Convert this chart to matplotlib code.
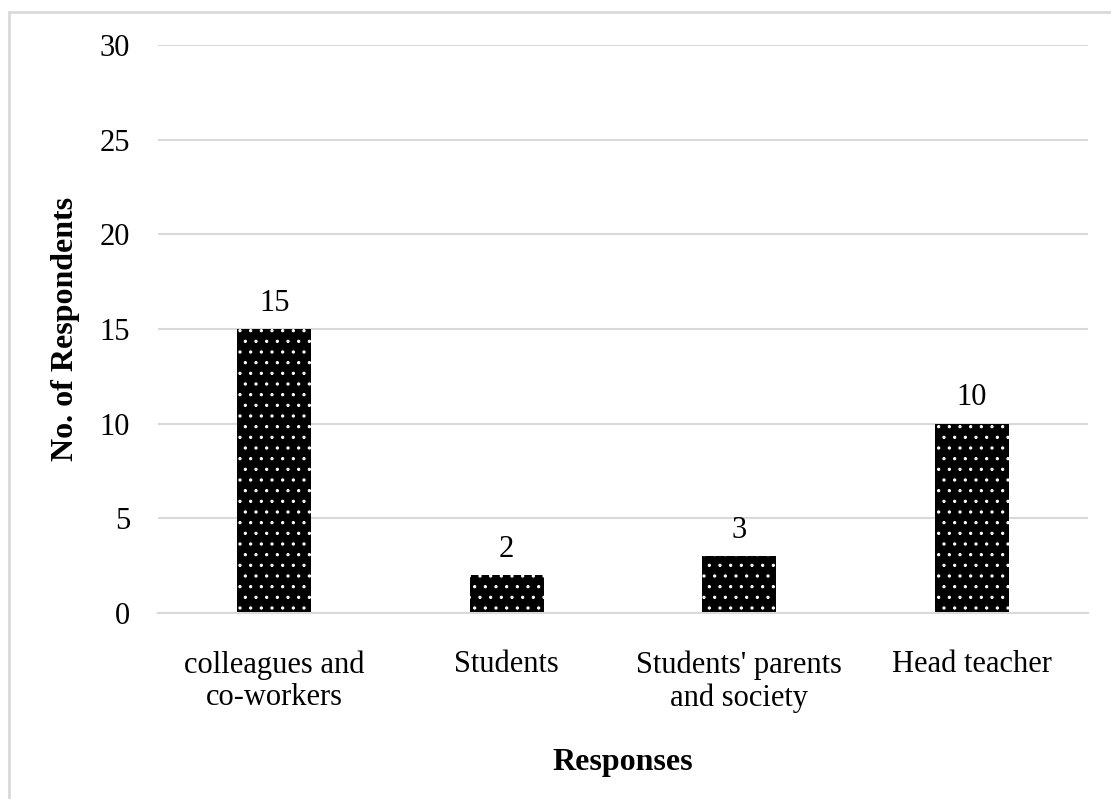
import matplotlib
matplotlib.use("Agg")
import matplotlib.pyplot as plt
from matplotlib.patches import Rectangle

categories = ["colleagues and\nco-workers", "Students", "Students' parents\nand society", "Head teacher"]
values = [15, 2, 3, 10]
yticks = [0, 5, 10, 15, 20, 25, 30]

DPI = 64
P = 100 / DPI  # scale for point sizes so text matches a 100-dpi layout

plt.rcParams['font.family'] = ['Liberation Serif', 'DejaVu Serif']
plt.rcParams['hatch.linewidth'] = 1.3
plt.rcParams['hatch.color'] = 'white'

FS = 22 * P
FSB = 23 * P

fig = plt.figure(figsize=(1111 / DPI, 799 / DPI), dpi=DPI)
ax = fig.add_axes([158/1111, 1-613/799, (1088-158)/1111, (613-45)/799])

x = list(range(len(categories)))
bars = ax.bar(x, values, width=0.32, color='black', edgecolor='white', linewidth=0, hatch='.')
for xi, v in zip(x, values):
    ax.text(xi, v + 0.6, str(v), ha='center', va='bottom', fontsize=FS)

ax.set_xlim(-0.5, len(categories) - 0.5)
ax.set_ylim(0, 30)
ax.set_yticks(yticks)
ax.set_xticks(x)
ax.set_xticklabels(categories, fontsize=FS, linespacing=1.15)
ax.tick_params(axis='y', labelsize=FS, length=0, pad=20 * P)
ax.tick_params(axis='x', length=0, pad=27 * P)
ax.yaxis.grid(True, color='#d9d9d9', linewidth=1.5 * P)
ax.set_axisbelow(True)
for s in ['top', 'right', 'left']:
    ax.spines[s].set_visible(False)
ax.spines['bottom'].set_color('#d9d9d9')
ax.spines['bottom'].set_linewidth(1.5 * P)

ax.set_ylabel("No. of Respondents", fontsize=FSB, fontweight='bold', labelpad=14 * P)
fig.text((158+1088)/2/1111, 1-770/799, "Responses", ha='center', va='baseline', fontsize=FSB, fontweight='bold')

fig.patches.append(Rectangle((8.5/1111, -0.1), 1.2, 1.1 - 12/799, transform=fig.transFigure,
                             fill=False, edgecolor='#d9d9d9', linewidth=2 * P))

fig.savefig("out.png", dpi=DPI)
